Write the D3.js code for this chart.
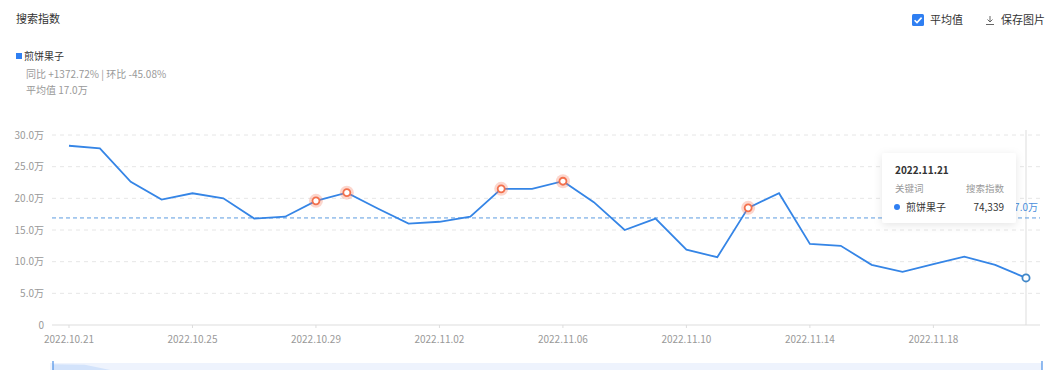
<!DOCTYPE html>
<html>
<head>
<meta charset="utf-8">
<script src="https://cdn.jsdelivr.net/npm/d3@7"></script>
<style>
  body { margin: 0; background: #fff; font-family: "Noto Sans CJK SC", "Noto Sans", sans-serif; }
  svg text { font-family: "Noto Sans CJK SC", "Noto Sans", sans-serif; }
</style>
</head>
<body>
<svg id="chart" width="1054" height="370"></svg>
<script>
// data
var dates = ["2022.10.21","2022.10.22","2022.10.23","2022.10.24","2022.10.25","2022.10.26","2022.10.27","2022.10.28",
  "2022.10.29","2022.10.30","2022.10.31","2022.11.01","2022.11.02","2022.11.03","2022.11.04","2022.11.05",
  "2022.11.06","2022.11.07","2022.11.08","2022.11.09","2022.11.10","2022.11.11","2022.11.12","2022.11.13",
  "2022.11.14","2022.11.15","2022.11.16","2022.11.17","2022.11.18","2022.11.19","2022.11.20","2022.11.21"];
var values = [283000,279000,226000,198000,208000,200000,168000,171000,
  196000,209000,184000,160000,163000,171000,215000,215000,
  227000,194000,150000,168000,119000,107000,185000,208000,
  128000,125000,95000,84000,96000,108000,95000,74339];
var highlightDates = ["2022.10.29","2022.10.30","2022.11.04","2022.11.06","2022.11.12"];
var xTickLabels = ["2022.10.21","2022.10.25","2022.10.29","2022.11.02","2022.11.06","2022.11.10","2022.11.14","2022.11.18"];
var yTicks = [0,50000,100000,150000,200000,250000,300000];
var seriesName = "煎饼果子";
var avgText = "17.0万";
var compareText = "同比 +1372.72% | 环比 -45.08%";
var hoverIndex = 31;

var svg = d3.select("#chart");
var margin = {left: 52, right: 1040, top: 135, bottom: 325};

var x = d3.scalePoint().domain(dates).range([69, 1026]);
var y = d3.scaleLinear().domain([0, 300000]).range([margin.bottom, margin.top]);
var avg = d3.mean(values);

function wan(v) { return v === 0 ? "0" : (v / 10000).toFixed(1) + "万"; }

// header
svg.append("text").attr("x", 16).attr("y", 23).attr("font-size", 11).attr("fill", "#333").text("搜索指数");

var cb = svg.append("g").attr("transform", "translate(912,14)");
cb.append("rect").attr("width", 12).attr("height", 12).attr("rx", 1.5).attr("fill", "#2f7ff2");
cb.append("path").attr("d", "M2.6,6.2 L5,8.6 L9.6,3.6").attr("fill", "none").attr("stroke", "#fff").attr("stroke-width", 1.6);
svg.append("text").attr("x", 930).attr("y", 24).attr("font-size", 11).attr("fill", "#333").text("平均值");

var dl = svg.append("g").attr("transform", "translate(985,15)").attr("stroke", "#666").attr("stroke-width", 1).attr("fill", "none");
dl.append("path").attr("d", "M5,1 V7 M2.5,4.5 L5,7 L7.5,4.5 M1,9.5 H9");
svg.append("text").attr("x", 1001).attr("y", 24).attr("font-size", 11).attr("fill", "#333").text("保存图片");

// legend
svg.append("rect").attr("x", 16).attr("y", 53).attr("width", 6).attr("height", 6).attr("fill", "#2f7ff2");
svg.append("text").attr("x", 24).attr("y", 60).attr("font-size", 10).attr("fill", "#333").text(seriesName);
svg.append("text").attr("x", 26).attr("y", 78).attr("font-size", 10).attr("fill", "#999").text(compareText);
svg.append("text").attr("x", 26).attr("y", 94).attr("font-size", 10).attr("fill", "#999").text("平均值 " + avgText);

// grid
svg.append("g").selectAll("line").data(yTicks.filter(function(d) { return d > 0; })).enter().append("line")
  .attr("x1", margin.left).attr("x2", margin.right)
  .attr("y1", function(d) { return y(d); }).attr("y2", function(d) { return y(d); })
  .attr("stroke", "#e6e6e6").attr("stroke-dasharray", "4,4");

svg.append("g").selectAll("text").data(yTicks).enter().append("text")
  .attr("x", 44).attr("y", function(d) { return y(d) + 3.5; })
  .attr("text-anchor", "end").attr("font-size", 10).attr("fill", "#999")
  .text(wan);

// x axis
var xAxis = svg.append("g").attr("transform", "translate(0," + margin.bottom + ")");
xAxis.append("line").attr("x1", margin.left).attr("x2", margin.right).attr("stroke", "#ddd");
xAxis.selectAll(".tk").data(xTickLabels).enter().append("line")
  .attr("x1", function(d) { return x(d); }).attr("x2", function(d) { return x(d); })
  .attr("y1", 0).attr("y2", 3).attr("stroke", "#ddd");
xAxis.selectAll("text").data(xTickLabels).enter().append("text")
  .attr("x", function(d) { return x(d); }).attr("y", 18)
  .attr("text-anchor", "middle").attr("font-size", 10).attr("fill", "#999").text(function(d) { return d; });

// hover line
svg.append("line").attr("x1", x(dates[hoverIndex])).attr("x2", x(dates[hoverIndex]))
  .attr("y1", 130).attr("y2", margin.bottom).attr("stroke", "#ddd");

// average line
svg.append("line").attr("x1", margin.left).attr("x2", margin.right)
  .attr("y1", y(avg)).attr("y2", y(avg))
  .attr("stroke", "#5b9be0").attr("stroke-dasharray", "4,3");
svg.append("text").attr("x", 1038).attr("y", y(avg) - 7).attr("text-anchor", "end")
  .attr("font-size", 10).attr("fill", "#4a8fdc").text(avgText);

// line
var line = d3.line().x(function(d, i) { return x(dates[i]); }).y(function(d) { return y(d); });
svg.append("path").datum(values).attr("d", line)
  .attr("fill", "none").attr("stroke", "#3585e6").attr("stroke-width", 1.8);

// highlighted points
var hl = svg.append("g").selectAll("g").data(highlightDates).enter().append("g")
  .attr("transform", function(d) { return "translate(" + x(d) + "," + y(values[dates.indexOf(d)]) + ")"; });
hl.append("circle").attr("r", 7).attr("fill", "rgba(246,120,90,0.3)");
hl.append("circle").attr("r", 3.5).attr("fill", "#fff").attr("stroke", "#f3704c").attr("stroke-width", 1.8);

// hovered point
svg.append("circle").attr("cx", x(dates[hoverIndex])).attr("cy", y(values[hoverIndex]))
  .attr("r", 3.6).attr("fill", "#fff").attr("stroke", "#3f86c8").attr("stroke-width", 1.8);

// tooltip
var defs = svg.append("defs");
var f = defs.append("filter").attr("id", "sh").attr("x", "-20%").attr("y", "-20%").attr("width", "140%").attr("height", "140%");
f.append("feDropShadow").attr("dx", 0).attr("dy", 2).attr("stdDeviation", 4).attr("flood-color", "#000").attr("flood-opacity", 0.1);
var tip = svg.append("g").attr("transform", "translate(882,153)");
tip.append("rect").attr("width", 134).attr("height", 70).attr("rx", 3).attr("fill", "#fff").attr("filter", "url(#sh)");
tip.append("text").attr("x", 13).attr("y", 21).attr("font-size", 10).attr("font-weight", "bold").attr("fill", "#333").text(dates[hoverIndex]);
tip.append("text").attr("x", 13).attr("y", 39).attr("font-size", 9.5).attr("fill", "#999").text("关键词");
tip.append("text").attr("x", 122).attr("y", 39).attr("text-anchor", "end").attr("font-size", 9.5).attr("fill", "#999").text("搜索指数");
tip.append("circle").attr("cx", 15).attr("cy", 54).attr("r", 3).attr("fill", "#2f7ff2");
tip.append("text").attr("x", 24).attr("y", 58).attr("font-size", 10).attr("fill", "#333").text(seriesName);
tip.append("text").attr("x", 122).attr("y", 58).attr("text-anchor", "end").attr("font-size", 10).attr("fill", "#333")
  .text(d3.format(",")(values[hoverIndex]));

// data zoom strip
var zy = d3.scaleLinear().domain([0, 300000]).range([400, 362]);
svg.append("rect").attr("x", 50).attr("y", 363).attr("width", 992).attr("height", 10).attr("fill", "#eef3fd");
var area = d3.area().x(function(d, i) { return x(dates[i]) - 16 + (i / 31) * 32; }).y0(400).y1(function(d) { return zy(d); });
svg.append("path").datum(values).attr("d", area).attr("fill", "#d3e3fb");
[53, 1042].forEach(function(hx) {
  svg.append("line").attr("x1", hx).attr("x2", hx).attr("y1", 361).attr("y2", 370).attr("stroke", "#4a8fe6").attr("stroke-width", 1.2);
});
</script>
</body>
</html>
